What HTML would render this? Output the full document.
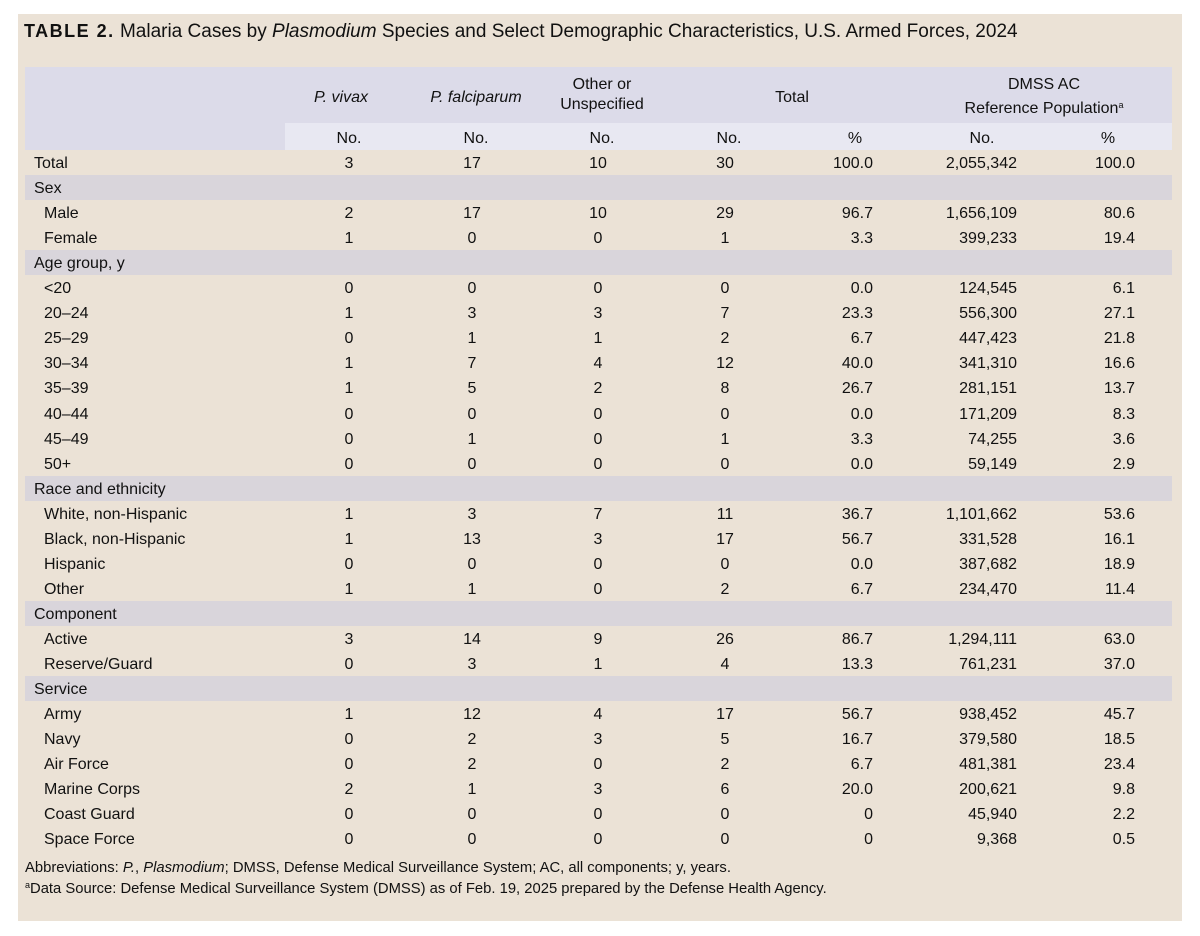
<!DOCTYPE html>
<html><head><meta charset="utf-8"><style>
*{margin:0;padding:0;box-sizing:border-box}
body{width:1200px;height:936px;background:#fff;font-family:"Liberation Sans",sans-serif;color:#111;position:relative;overflow:hidden}
#panel{position:absolute;left:18px;top:14px;width:1164px;height:907px;background:#ebe2d6}
.t{position:absolute;white-space:nowrap;font-size:16px;line-height:25px}
.title{position:absolute;left:24px;top:21px;font-size:19px;white-space:nowrap}
.title b{font-family:"Liberation Sans Narrow","Liberation Sans",sans-serif;letter-spacing:1.5px;font-weight:bold;font-size:18px}
.hdr{position:absolute;left:25px;top:67px;width:1147px;height:83px;background:#dcdbe9}
.sub{position:absolute;left:285px;top:123px;width:887px;height:27px;background:#e8e8f2}
.sec{position:absolute;left:25px;width:1147px;height:25px;background:#d9d5db}
.c{transform:translateX(-50%);text-align:center}
.r{transform:translateX(-100%)}
.foot{position:absolute;left:25px;font-size:14.8px;white-space:nowrap;line-height:17px}
</style></head><body>
<div id="panel"></div>
<div class="title"><b>TABLE 2.</b> Malaria Cases by <i>Plasmodium</i> Species and Select Demographic Characteristics, U.S. Armed Forces, 2024</div>
<div class="hdr"></div><div class="sub"></div>
<div class="t c" style="left:341px;top:85px"><i>P. vivax</i></div>
<div class="t c" style="left:476px;top:85px"><i>P. falciparum</i></div>
<div class="t c" style="left:602px;top:75px;line-height:20px">Other or<br>Unspecified</div>
<div class="t c" style="left:792px;top:85px">Total</div>
<div class="t c" style="left:1044px;top:75px;line-height:20px">DMSS AC<br>Reference Population<span style="font-size:9px;vertical-align:5px">a</span></div>
<div id="rows"></div>
<script>
const hdr=[["No.",349,'c'],["No.",476,'c'],["No.",602,'c'],["No.",729,'c'],["%",855,'c'],["No.",982,'c'],["%",1108,'c']];
let h='';hdr.forEach(x=>h+=`<div class="t c" style="left:${x[1]}px;top:126px">${x[0]}</div>`);
const rows=[
["Total",0,"3","17","10","30","100.0","2,055,342","100.0"],
["Sex",1],
["Male",2,"2","17","10","29","96.7","1,656,109","80.6"],
["Female",2,"1","0","0","1","3.3","399,233","19.4"],
["Age group, y",1],
["&lt;20",2,"0","0","0","0","0.0","124,545","6.1"],
["20–24",2,"1","3","3","7","23.3","556,300","27.1"],
["25–29",2,"0","1","1","2","6.7","447,423","21.8"],
["30–34",2,"1","7","4","12","40.0","341,310","16.6"],
["35–39",2,"1","5","2","8","26.7","281,151","13.7"],
["40–44",2,"0","0","0","0","0.0","171,209","8.3"],
["45–49",2,"0","1","0","1","3.3","74,255","3.6"],
["50+",2,"0","0","0","0","0.0","59,149","2.9"],
["Race and ethnicity",1],
["White, non-Hispanic",2,"1","3","7","11","36.7","1,101,662","53.6"],
["Black, non-Hispanic",2,"1","13","3","17","56.7","331,528","16.1"],
["Hispanic",2,"0","0","0","0","0.0","387,682","18.9"],
["Other",2,"1","1","0","2","6.7","234,470","11.4"],
["Component",1],
["Active",2,"3","14","9","26","86.7","1,294,111","63.0"],
["Reserve/Guard",2,"0","3","1","4","13.3","761,231","37.0"],
["Service",1],
["Army",2,"1","12","4","17","56.7","938,452","45.7"],
["Navy",2,"0","2","3","5","16.7","379,580","18.5"],
["Air Force",2,"0","2","0","2","6.7","481,381","23.4"],
["Marine Corps",2,"2","1","3","6","20.0","200,621","9.8"],
["Coast Guard",2,"0","0","0","0","0","45,940","2.2"],
["Space Force",2,"0","0","0","0","0","9,368","0.5"]];
rows.forEach((r,i)=>{const y=150+i*25.05;
 if(r[1]==1)h+=`<div class="sec" style="top:${y}px"></div>`;
 h+=`<div class="t" style="left:${r[1]==2?44:34}px;top:${y+1}px">${r[0]}</div>`;
 if(r.length>2){
  [[349,'c'],[472,'c'],[598,'c'],[725,'c'],[873,'r'],[1017,'r'],[1135,'r']].forEach((p,k)=>{
   h+=`<div class="t ${p[1]}" style="left:${p[0]}px;top:${y+1}px">${r[k+2]}</div>`;});
 }});
h+=`<div class="foot" style="top:860px">Abbreviations: <i>P.</i>, <i>Plasmodium</i>; DMSS, Defense Medical Surveillance System; AC, all components; y, years.</div>`;
h+=`<div class="foot" style="top:877px"><span style="font-size:9px;vertical-align:5px">a</span>Data Source: Defense Medical Surveillance System (DMSS) as of Feb. 19, 2025 prepared by the Defense Health Agency.</div>`;
document.getElementById('rows').innerHTML=h;
</script>
</body></html>
